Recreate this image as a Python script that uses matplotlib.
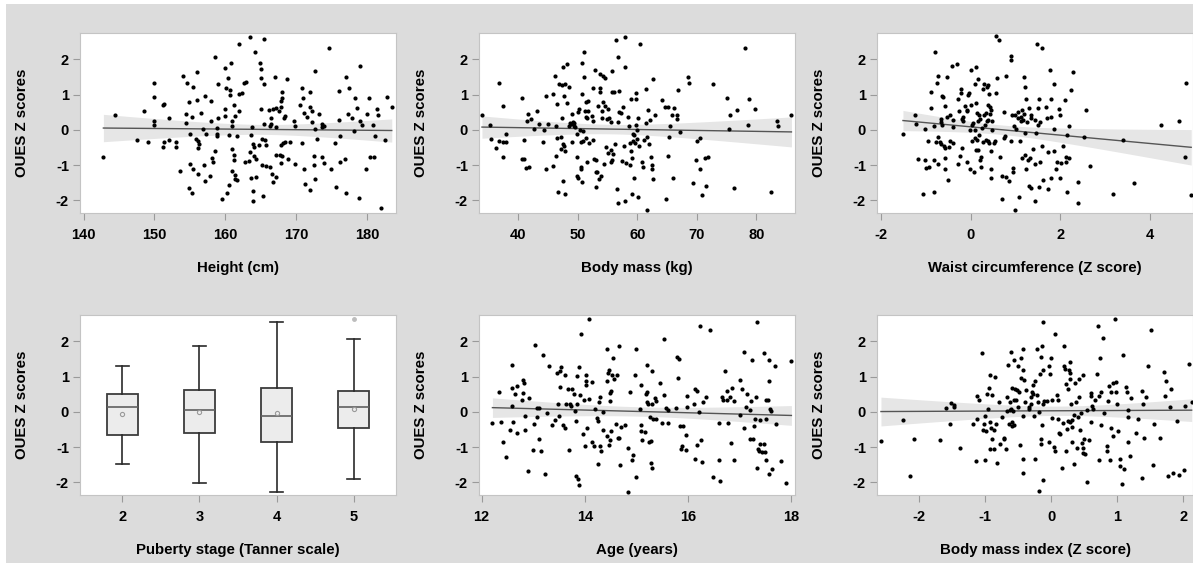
import numpy as np
import matplotlib
matplotlib.use("Agg")
import matplotlib.pyplot as plt
from matplotlib.patches import Rectangle

plt.rcParams['font.family'] = ['Liberation Sans', 'DejaVu Sans']
plt.rcParams['font.weight'] = 'bold'
plt.rcParams['axes.unicode_minus'] = False

# (x, OUES Z score) pairs
height_pts = np.array([
    (142.8, -0.76), (144.4, 0.43), (147.6, -0.29), (148.6, 0.54), (149.1, -0.34), (150.0, 1.33),
    (150.0, 0.93), (150.0, 0.26), (150.0, 0.14), (151.2, 0.70), (151.3, 0.74), (151.3, -0.34),
    (151.2, -0.49), (152.1, -0.29), (152.1, 0.34), (153.1, -0.34), (153.1, -0.49), (153.6, -1.17),
    (154.0, 1.53), (154.4, 0.19), (154.5, 0.46), (154.6, 1.34), (154.9, 0.78), (155.0, -0.11),
    (155.0, -0.97), (154.9, -1.65), (155.3, -1.78), (155.4, 1.22), (155.3, 0.37), (155.4, -1.11),
    (155.9, -0.25), (156.0, 1.63), (156.0, 0.84), (156.1, -0.31), (156.1, -0.52), (156.3, -0.41),
    (156.1, -1.25), (156.6, 0.49), (156.9, 0.02), (157.1, 0.96), (157.0, -1.01), (157.1, -1.46),
    (157.3, -0.13), (157.8, -1.32), (158.0, 0.82), (158.0, 0.26), (158.2, -0.79), (158.3, -0.91),
    (158.5, 2.08), (158.6, -0.60), (158.8, -0.11), (158.9, -0.17), (158.9, 0.06), (159.0, 1.29),
    (159.0, 0.35), (159.5, -1.97), (160.0, 1.75), (160.0, 0.58), (160.0, 0.38), (160.1, 1.19),
    (160.3, -1.80), (160.4, 1.47), (160.5, -0.15), (160.5, -1.57), (160.7, 1.14), (160.7, 1.00),
    (160.8, 1.89), (160.9, 0.26), (161.0, 0.11), (161.0, -0.55), (161.0, -1.16), (161.2, 0.70),
    (161.3, -0.72), (161.3, -0.86), (161.4, -1.28), (161.4, -1.40), (161.4, 0.38), (161.6, -1.42),
    (161.7, -0.17), (161.9, 0.53), (162.0, 1.01), (162.0, 2.45), (162.3, 1.04), (162.6, 1.32),
    (162.8, -0.91), (162.9, 1.37), (163.5, 2.64), (163.4, -0.88), (163.5, -0.62), (163.6, -1.37),
    (163.7, -0.14), (163.8, 0.07), (163.9, -1.73), (163.9, -2.03), (163.9, -0.40), (164.0, -0.74),
    (164.1, -0.48), (164.2, 2.21), (164.3, -1.33), (164.4, -0.83), (164.7, -0.43), (164.9, 1.90),
    (165.0, 0.59), (165.0, 1.48), (165.1, 1.72), (165.2, -0.26), (165.2, -1.00), (165.3, -1.87),
    (165.4, 2.57), (165.5, 1.30), (165.5, 0.16), (165.6, -0.30), (165.7, -1.02), (165.8, -0.44),
    (166.2, 0.55), (166.3, 0.10), (166.3, -1.06), (166.4, 0.35), (166.5, 0.16), (166.6, -1.25),
    (166.7, 0.59), (166.8, -1.47), (167.0, 1.49), (167.1, 0.61), (167.1, 0.09), (167.2, -0.72),
    (167.2, -1.34), (167.6, 0.54), (167.7, -0.72), (167.8, 0.66), (167.8, -0.42), (167.9, -0.93),
    (167.9, 0.82), (168.0, 1.08), (168.0, 0.90), (168.0, -0.74), (168.2, -0.36), (168.3, 0.34),
    (168.4, 0.40), (168.5, -0.34), (168.7, 1.44), (168.8, -0.83), (169.2, -0.34), (169.7, 0.26),
    (169.8, 0.11), (169.9, -0.96), (170.6, 0.70), (170.9, -0.38), (170.9, 1.19), (171.0, 0.90),
    (171.1, 0.48), (171.1, -1.10), (171.2, -1.54), (171.5, 0.37), (171.9, 1.08), (172.0, -1.72),
    (172.0, 0.66), (172.2, 0.54), (172.3, 0.23), (172.5, -0.74), (172.5, -0.99), (172.6, 0.02),
    (172.7, 1.68), (172.7, -1.40), (172.9, -0.26), (173.2, 0.44), (173.6, -0.77), (173.6, 0.16),
    (173.7, 0.07), (173.9, -0.95), (174.0, 0.11), (174.7, 2.32), (174.9, -1.10), (175.5, -0.38),
    (175.7, -1.62), (176.0, 1.11), (176.1, 0.29), (176.2, -0.17), (176.2, -0.91), (176.9, -0.84),
    (177.1, 1.51), (177.1, -1.79), (177.3, 0.44), (177.5, 1.19), (177.9, 0.34), (178.2, -0.04),
    (178.3, 0.90), (178.6, 0.61), (178.9, -1.92), (179.0, 1.80), (179.0, 0.25), (179.3, 0.13),
    (179.9, -1.10), (180.0, 0.44), (180.3, 0.91), (180.4, -0.76), (180.9, 0.14), (181.0, -0.76),
    (181.1, -0.17), (181.4, 0.59), (181.6, 0.43), (182.0, -2.23), (182.5, -0.29), (182.8, 0.94),
    (183.5, 0.65),
])

mass_pts = np.array([
    (33.9, 0.41), (35.2, 0.13), (35.5, -0.25), (36.3, -0.52), (36.7, 1.32), (36.8, -0.31),
    (37.4, -0.35), (37.5, 0.68), (37.9, -0.12), (38.0, -0.35), (37.5, -0.78), (40.6, -0.84),
    (40.6, 0.91), (40.9, -0.82), (41.0, -0.30), (41.3, -1.08), (41.5, 0.24), (41.6, 0.45),
    (41.8, -1.04), (42.1, 0.30), (42.7, 0.03), (43.1, 0.53), (43.4, 0.17), (44.2, -0.35),
    (44.3, 0.00), (44.6, 0.97), (44.7, -1.10), (45.0, 0.17), (45.8, 1.03), (45.8, -1.02),
    (46.2, 1.52), (46.3, 0.12), (46.4, -0.75), (46.5, 0.73), (46.5, -0.22), (46.6, -1.76),
    (46.9, 1.30), (47.2, -0.20), (47.3, 1.27), (47.2, -0.54), (47.4, 0.33), (47.5, 1.79),
    (47.5, -0.39), (47.5, -1.46), (47.6, 0.96), (47.7, -0.47), (47.8, 1.29), (47.8, -0.59),
    (47.9, -1.83), (48.2, 0.75), (48.2, 1.88), (48.5, 1.22), (48.6, 0.10), (48.7, 0.20),
    (48.8, 0.18), (49.0, -0.35), (49.1, 0.45), (49.2, 0.23), (49.3, 0.19), (49.3, 0.10),
    (49.6, 0.08), (49.8, -0.12), (49.9, -1.30), (49.9, -0.77), (50.0, -1.36), (50.1, 0.50),
    (50.2, 0.60), (50.4, -0.01), (50.5, -1.05), (50.5, -0.35), (50.6, -1.10), (50.7, 1.89),
    (50.7, 1.02), (50.7, -1.48), (50.8, -0.04), (50.9, -0.31), (51.0, 2.21), (51.1, 1.49),
    (51.2, 0.53), (51.3, 0.37), (51.3, -0.24), (51.4, 0.80), (51.5, -0.92), (51.6, 0.35),
    (51.7, 0.83), (51.8, 0.54), (51.9, -0.38), (52.4, 0.39), (52.5, 0.24), (52.5, -0.30),
    (52.6, 1.18), (52.8, -0.83), (52.9, 1.70), (53.0, -0.85), (53.0, -1.21), (53.1, -1.61),
    (53.3, -1.20), (53.4, 0.69), (53.6, -1.39), (53.7, 1.18), (53.7, 1.60), (53.8, 1.07),
    (53.9, -1.30), (54.0, 0.33), (54.0, 0.54), (54.2, 1.53), (54.3, 0.79), (54.4, -0.97),
    (54.5, 1.46), (54.6, 0.69), (54.8, -0.50), (54.9, 0.31), (55.0, -0.67), (55.1, 0.60),
    (55.3, 0.35), (55.5, -0.92), (55.5, 0.21), (55.6, -0.56), (55.7, 1.07), (55.8, 1.67),
    (55.8, -0.86), (55.9, -0.68), (56.1, 1.08), (56.3, -0.41), (56.5, 2.56), (56.6, -1.68),
    (56.7, -2.07), (56.8, 2.08), (56.8, 0.23), (56.9, 0.52), (56.9, 1.09), (57.3, 0.49),
    (57.4, -0.89), (57.6, 0.64), (57.7, -0.47), (57.9, 2.65), (58.0, -2.02), (58.0, 1.79),
    (58.1, -0.93), (58.4, 0.37), (58.6, 0.10), (58.7, -0.38), (58.8, -0.99), (58.9, 0.89),
    (58.9, -0.60), (59.1, -1.82), (59.1, -0.81), (59.2, -0.11), (59.3, -0.33), (59.4, -1.36),
    (59.5, -0.14), (59.6, -0.38), (59.7, 0.14), (59.8, 0.89), (59.8, 1.04), (59.9, -0.01),
    (60.0, -0.27), (60.1, 0.35), (60.2, -1.90), (60.3, -0.45), (60.4, 2.43), (60.8, -0.92),
    (60.9, -1.04), (61.2, -0.28), (61.4, 0.20), (61.5, 1.17), (61.6, -2.27), (61.6, -0.20),
    (61.8, 0.55), (61.9, -0.39), (62.1, 0.27), (62.3, -0.78), (62.4, -1.00), (62.4, -1.12),
    (62.6, 1.43), (62.7, -1.39), (63.0, 0.41), (64.1, 0.85), (64.6, 0.64), (64.8, -1.95),
    (65.1, 0.64), (65.2, -0.75), (65.4, -0.19), (65.5, 0.10), (65.9, 0.41), (66.0, -1.38),
    (66.1, 0.63), (66.6, 0.30), (66.7, 0.42), (66.8, 1.12), (67.2, -0.05), (68.6, 1.51),
    (68.7, 1.33), (69.4, -1.52), (69.9, -0.85), (70.0, -0.33), (70.5, -1.12), (70.6, -0.22),
    (70.9, -1.86), (71.3, -0.79), (71.6, -1.59), (71.8, -0.76), (72.7, 1.30), (75.0, 0.91),
    (75.4, 0.03), (75.6, 0.41), (76.3, -1.64), (76.7, 0.57), (78.1, 2.33), (78.6, 0.15),
    (78.7, 0.88), (79.8, 0.59), (82.4, -1.76), (83.5, 0.26), (83.6, 0.12), (85.9, 0.43),
])

waist_pts = np.array([
    (-1.51, -0.11), (-1.23, 0.41), (-1.22, 0.18), (-1.17, -0.82), (-1.06, -1.83), (-1.02, -0.86),
    (-1.01, 0.03), (-1.00, -1.08), (-0.95, -0.31), (-0.93, -1.04), (-0.89, 0.61), (-0.88, 1.07),
    (-0.82, -1.76), (-0.82, 0.12), (-0.81, -0.86), (-0.79, 2.20), (-0.78, -0.35), (-0.74, 1.32),
    (-0.73, -0.20), (-0.72, 1.53), (-0.72, -0.98), (-0.69, -0.35), (-0.67, 0.22), (-0.66, 0.30),
    (-0.65, -0.39), (-0.64, 0.14), (-0.63, 0.96), (-0.61, 0.92), (-0.60, -0.45), (-0.58, -1.11),
    (-0.57, 0.68), (-0.56, -0.52), (-0.56, -0.79), (-0.53, 1.50), (-0.53, 0.37), (-0.50, -1.42),
    (-0.48, -0.50), (-0.46, 0.43), (-0.46, -0.33), (-0.42, 1.80), (-0.40, -0.37), (-0.39, 0.28),
    (-0.39, 0.09), (-0.31, 1.88), (-0.28, 0.89), (-0.27, -0.96), (-0.25, 0.54), (-0.23, -0.73),
    (-0.21, 1.06), (-0.21, 1.17), (-0.20, 0.30), (-0.19, -0.52), (-0.16, 0.24), (-0.16, 0.37),
    (-0.12, 0.68), (-0.09, 0.57), (-0.08, 0.54), (-0.07, -0.90), (-0.05, 0.98), (-0.03, 1.05),
    (-0.02, 0.01), (-0.01, -1.11), (0.01, 1.69), (0.02, 0.71), (0.03, 0.14), (0.04, -0.33),
    (0.06, 0.19), (0.07, -1.21), (0.09, 1.29), (0.10, -0.01), (0.11, -0.22), (0.12, 0.77),
    (0.13, 1.78), (0.13, -0.57), (0.15, 0.47), (0.15, -0.29), (0.16, 1.44), (0.17, 0.24),
    (0.17, -0.56), (0.19, 0.41), (0.19, -0.14), (0.22, -0.85), (0.22, 0.30), (0.24, -1.06),
    (0.24, -0.77), (0.25, 0.05), (0.27, 1.15), (0.28, -0.35), (0.30, 1.30), (0.30, 0.43),
    (0.32, 0.14), (0.34, 0.49), (0.34, -0.28), (0.36, 0.24), (0.37, 1.23), (0.38, 0.28),
    (0.39, 0.71), (0.40, 1.27), (0.40, -0.33), (0.42, 1.02), (0.42, -0.38), (0.43, 0.66),
    (0.44, 0.45), (0.45, -1.10), (0.45, -1.36), (0.46, 0.57), (0.46, -0.60), (0.48, -0.01),
    (0.49, 0.24), (0.52, -0.38), (0.54, -0.33), (0.56, 2.66), (0.57, 1.05), (0.60, 1.48),
    (0.64, 2.56), (0.66, -0.77), (0.71, -1.95), (0.71, -1.32), (0.74, -0.24), (0.75, 0.52),
    (0.77, -0.18), (0.79, 1.53), (0.79, -1.34), (0.85, -1.46), (0.90, 1.97), (0.91, 2.09),
    (0.91, -0.33), (0.93, 0.43), (0.94, -1.21), (0.95, -1.08), (0.98, 0.10), (0.99, 0.43),
    (1.00, -2.27), (1.02, 0.03), (1.05, 0.52), (1.07, 0.35), (1.09, -1.90), (1.10, -0.33),
    (1.12, 0.37), (1.13, 0.24), (1.15, 0.55), (1.15, -0.79), (1.17, 0.28), (1.19, 1.51),
    (1.19, 0.45), (1.21, -0.10), (1.21, -0.71), (1.22, 1.21), (1.24, -1.11), (1.24, 0.87),
    (1.27, 0.22), (1.28, -0.85), (1.30, 0.62), (1.31, -1.59), (1.33, -0.81), (1.34, 0.41),
    (1.35, -1.64), (1.36, 0.35), (1.40, -0.54), (1.43, -2.01), (1.44, -0.98), (1.45, 0.29),
    (1.47, -0.10), (1.49, 2.43), (1.50, 0.62), (1.51, 0.14), (1.52, -1.61), (1.53, 0.89),
    (1.55, 0.22), (1.56, -0.92), (1.59, 2.33), (1.59, -0.45), (1.62, -1.42), (1.69, 0.66),
    (1.71, 0.35), (1.73, -1.67), (1.74, -0.64), (1.77, 1.70), (1.79, -1.36), (1.79, 0.89),
    (1.80, 0.37), (1.86, 1.30), (1.87, -0.60), (1.87, 0.03), (1.90, -1.12), (1.93, -0.92),
    (1.98, 0.60), (1.99, 0.43), (2.00, -1.38), (2.01, -0.94), (2.07, -0.47), (2.10, 0.85),
    (2.13, -0.77), (2.14, -0.90), (2.15, -0.14), (2.16, -1.76), (2.19, 0.12), (2.21, -0.81),
    (2.25, 1.14), (2.28, 1.63), (2.40, -1.48), (2.40, -2.07), (2.54, -0.19), (2.58, 0.57),
    (2.66, -1.02), (3.19, -1.82), (3.40, -0.28), (3.66, -1.51), (4.25, 0.14), (4.65, 0.24),
    (4.80, -0.76), (4.81, 1.34), (4.93, -1.84),
])

age_pts = np.array([
    (12.21, -0.31), (12.33, 0.55), (12.37, -0.30), (12.42, -0.86), (12.48, -1.27), (12.55, -0.51),
    (12.58, 0.17), (12.58, 0.68), (12.59, 1.32), (12.61, -0.28), (12.65, 0.52), (12.68, 0.73),
    (12.69, -0.60), (12.78, 0.33), (12.80, 0.54), (12.81, 0.90), (12.83, 0.81), (12.84, -0.52),
    (12.84, -0.13), (12.89, -1.67), (12.92, 0.40), (12.99, -1.09), (13.02, -0.35), (13.04, 1.89),
    (13.07, -0.14), (13.08, 0.12), (13.11, -0.78), (13.12, 0.12), (13.15, -1.12), (13.19, 1.62),
    (13.23, -1.76), (13.26, -0.04), (13.31, 1.30), (13.36, -0.37), (13.42, -0.22), (13.46, 1.09),
    (13.48, 0.22), (13.49, -0.13), (13.51, 1.17), (13.52, 0.70), (13.53, 1.28), (13.57, -0.36),
    (13.61, 1.06), (13.62, -0.46), (13.64, 0.23), (13.68, 0.64), (13.70, -1.08), (13.71, 0.22),
    (13.74, 0.18), (13.75, 0.64), (13.79, 0.52), (13.81, 0.03), (13.82, -0.26), (13.83, -1.82),
    (13.84, 1.02), (13.85, 0.21), (13.87, -1.90), (13.89, 1.27), (13.89, -2.08), (13.91, 0.47),
    (13.92, 2.20), (13.97, -0.62), (13.98, 0.35), (14.00, -0.98), (14.02, 0.87), (14.03, 1.06),
    (14.03, 0.77), (14.04, -0.47), (14.08, 2.64), (14.09, 0.37), (14.13, 0.85), (14.14, -0.86),
    (14.17, -0.96), (14.20, 0.09), (14.23, -0.16), (14.25, -0.27), (14.25, -1.48), (14.27, 0.28),
    (14.29, 0.41), (14.30, -0.96), (14.31, -1.11), (14.35, -0.51), (14.36, -0.01), (14.42, -0.69),
    (14.43, 1.78), (14.43, 0.88), (14.45, 1.10), (14.47, -0.94), (14.47, 1.20), (14.48, 0.31),
    (14.49, -0.81), (14.49, 0.54), (14.50, 0.58), (14.51, -0.55), (14.53, 1.04), (14.55, 1.53),
    (14.57, 0.94), (14.60, -0.35), (14.62, 1.04), (14.64, -0.75), (14.66, 1.88), (14.67, -0.75),
    (14.68, -1.52), (14.70, -0.42), (14.78, -0.37), (14.83, -2.27), (14.84, -1.03), (14.87, 0.56),
    (14.92, -1.36), (14.94, -1.22), (14.98, 1.04), (15.00, 1.79), (15.00, -1.84), (15.06, 0.09),
    (15.08, -0.55), (15.09, -0.36), (15.09, 0.77), (15.11, -0.81), (15.17, -0.56), (15.19, 0.52),
    (15.20, 1.34), (15.20, 0.27), (15.21, 0.56), (15.23, 0.22), (15.25, -0.85), (15.26, -0.15),
    (15.28, -1.45), (15.29, -0.83), (15.30, -1.60), (15.31, 1.17), (15.31, 0.22), (15.32, -0.20),
    (15.35, 0.39), (15.37, -0.20), (15.38, 0.30), (15.45, 0.83), (15.50, -0.32), (15.53, 2.08),
    (15.54, 0.47), (15.57, 0.10), (15.61, -0.33), (15.62, 0.06), (15.77, 0.10), (15.78, 1.55),
    (15.80, 0.97), (15.83, 1.51), (15.84, -0.39), (15.86, -1.04), (15.88, -0.96), (15.91, -0.39),
    (15.95, -1.08), (15.96, -0.67), (15.97, 0.15), (15.98, 0.45), (16.11, 0.21), (16.13, 0.64),
    (16.13, -1.34), (16.17, 0.58), (16.17, -0.93), (16.22, -0.01), (16.23, 2.43), (16.24, -0.79),
    (16.26, -1.41), (16.28, 0.28), (16.35, 0.43), (16.43, 2.33), (16.48, -1.84), (16.59, -0.31),
    (16.59, -1.37), (16.61, -1.95), (16.66, 0.43), (16.68, 0.35), (16.72, 1.17), (16.75, 0.33),
    (16.75, 0.58), (16.77, -0.33), (16.82, 0.43), (16.84, -0.87), (16.85, 0.68), (16.88, 0.30),
    (16.89, -1.36), (17.00, 0.91), (17.01, -0.10), (17.04, 0.64), (17.09, 1.69), (17.09, -0.46),
    (17.12, 0.15), (17.15, 0.50), (17.19, 0.04), (17.20, -0.77), (17.22, 0.32), (17.24, 1.47),
    (17.26, -0.77), (17.27, -0.39), (17.30, -0.20), (17.31, 0.41), (17.33, 2.56), (17.33, -1.59),
    (17.35, -1.04), (17.38, -1.11), (17.40, -0.92), (17.40, -0.22), (17.43, -1.15), (17.46, 1.67),
    (17.46, -0.90), (17.48, -1.15), (17.50, -1.36), (17.50, 0.35), (17.51, -0.20), (17.54, 0.35),
    (17.56, 0.89), (17.56, -1.77), (17.57, 1.48), (17.59, 0.09), (17.61, 0.03), (17.63, -1.63),
    (17.69, 1.30), (17.71, -0.35), (17.79, -1.40), (17.90, -2.01), (18.00, 1.43),
])

bmi_pts = np.array([
    (-2.58, -0.83), (-2.25, -0.24), (-2.14, -1.81), (-2.08, -0.77), (-1.68, -0.81), (-1.60, 0.10),
    (-1.53, -0.34), (-1.52, 0.26), (-1.48, 0.19), (-1.47, 0.14), (-1.38, -1.02), (-1.19, -0.34),
    (-1.14, -1.40), (-1.13, 0.45), (-1.13, -0.21), (-1.09, 0.34), (-1.05, 1.68), (-1.04, -0.51),
    (-1.02, -0.34), (-1.01, -0.11), (-1.00, -1.36), (-0.99, -0.55), (-0.98, 0.51), (-0.95, 0.09),
    (-0.94, 0.68), (-0.93, -1.06), (-0.93, 1.04), (-0.92, -0.28), (-0.91, -0.45), (-0.90, -0.76),
    (-0.89, 0.47), (-0.87, -1.06), (-0.86, -0.51), (-0.85, 0.99), (-0.83, -0.34), (-0.82, -1.44),
    (-0.79, 0.28), (-0.77, -0.91), (-0.74, -0.15), (-0.72, -0.78), (-0.71, -0.74), (-0.69, -1.06),
    (-0.67, 0.42), (-0.67, 0.02), (-0.65, 1.33), (-0.64, -0.34), (-0.63, 0.04), (-0.62, 0.28),
    (-0.61, 0.09), (-0.61, 1.70), (-0.60, 0.68), (-0.60, -0.30), (-0.59, -0.40), (-0.58, 0.02),
    (-0.57, 0.34), (-0.57, -0.36), (-0.56, 1.46), (-0.55, 0.66), (-0.53, 0.34), (-0.52, 0.63),
    (-0.51, 0.15), (-0.50, 1.31), (-0.48, 0.55), (-0.47, -0.95), (-0.45, 1.52), (-0.45, 0.97),
    (-0.43, -1.33), (-0.43, -1.74), (-0.43, 1.78), (-0.42, -0.11), (-0.42, 1.18), (-0.41, 0.91),
    (-0.40, 0.27), (-0.38, 0.61), (-0.34, 0.09), (-0.33, 0.14), (-0.31, 0.42), (-0.30, 0.23),
    (-0.29, 0.57), (-0.28, 0.51), (-0.27, 0.76), (-0.26, -0.13), (-0.25, -1.35), (-0.24, 0.87),
    (-0.22, 0.49), (-0.21, 1.78), (-0.20, 0.27), (-0.19, -2.25), (-0.18, 0.00), (-0.17, 1.08),
    (-0.16, -0.91), (-0.15, -0.78), (-0.15, 1.55), (-0.14, 1.87), (-0.14, -0.36), (-0.13, 2.56),
    (-0.13, 0.23), (-0.12, -1.93), (-0.12, 1.18), (-0.11, 0.30), (-0.07, 0.32), (-0.04, 1.29),
    (-0.03, -0.85), (-0.02, 1.08), (-0.01, 1.52), (0.01, 0.34), (0.02, -0.17), (0.04, -1.00),
    (0.06, 2.20), (0.06, -1.10), (0.09, 0.47), (0.10, 0.34), (0.11, -0.19), (0.12, -0.59),
    (0.14, -0.63), (0.16, -1.59), (0.18, -0.32), (0.19, 1.88), (0.20, 1.29), (0.21, 1.23),
    (0.22, 0.78), (0.23, -1.10), (0.24, -0.49), (0.25, -0.25), (0.26, 0.66), (0.27, 1.18),
    (0.28, 1.09), (0.28, -0.28), (0.28, 0.93), (0.29, 1.42), (0.30, 0.23), (0.31, -0.23),
    (0.31, -0.85), (0.32, -0.44), (0.34, -0.09), (0.35, -1.48), (0.36, 0.83), (0.38, 0.27),
    (0.39, -1.02), (0.40, -0.15), (0.42, 0.42), (0.42, 0.93), (0.44, -0.51), (0.45, -0.02),
    (0.47, -0.89), (0.48, 1.04), (0.48, -1.02), (0.49, -1.16), (0.50, -0.76), (0.52, -1.19),
    (0.54, -1.99), (0.55, 0.04), (0.58, -0.80), (0.60, 0.53), (0.61, 0.44), (0.61, -0.30),
    (0.62, 0.17), (0.63, 0.09), (0.67, 0.34), (0.70, 1.08), (0.71, 2.43), (0.72, -1.38),
    (0.73, 0.44), (0.74, 1.52), (0.75, -0.38), (0.75, 0.55), (0.78, 2.09), (0.80, -0.04),
    (0.84, -1.10), (0.85, -0.97), (0.86, 0.32), (0.87, 0.74), (0.89, -1.36), (0.90, 0.55),
    (0.91, -0.45), (0.93, -0.68), (0.94, 0.82), (0.97, 2.64), (0.98, 0.55), (0.99, 0.85),
    (1.00, 0.21), (1.02, -0.53), (1.04, -1.35), (1.04, -1.55), (1.07, -2.05), (1.09, 1.61),
    (1.11, -1.61), (1.13, 0.70), (1.15, 0.57), (1.16, 0.04), (1.16, -0.15), (1.16, -0.85),
    (1.19, -1.25), (1.21, 0.38), (1.29, -0.59), (1.31, -0.19), (1.37, -1.88), (1.38, 0.59),
    (1.39, 0.23), (1.41, -0.74), (1.43, 0.42), (1.47, 1.31), (1.52, 2.33), (1.54, -1.50),
    (1.56, -0.34), (1.65, -0.74), (1.71, 1.14), (1.72, 0.44), (1.74, 0.89), (1.77, -1.82),
    (1.80, 0.13), (1.81, 0.64), (1.84, -1.74), (1.90, -0.25), (1.94, -1.80), (2.02, -1.66),
    (2.03, 0.16), (2.09, 1.35), (2.13, 0.27),
])

# boxplot summary per Tanner stage (whisker low, Q1, median, Q3, whisker high, mean)
tanner_stages = [2, 3, 4, 5]
box_low = [-1.47, -2.01, -2.27, -1.90]
box_q1 = [-0.67, -0.60, -0.85, -0.47]
box_med = [0.15, 0.05, -0.13, 0.13]
box_q3 = [0.52, 0.63, 0.69, 0.60]
box_high = [1.31, 1.87, 2.55, 2.07]
box_mean = [-0.07, 0.01, -0.03, 0.08]
box_fliers = [[], [], [], [2.63]]

fig = plt.figure(figsize=(11.93, 5.63), dpi=100)
fig.patches.append(Rectangle((6 / 1193, 0), 1, 559 / 563, transform=fig.transFigure,
                             facecolor='#dcdcdc', edgecolor='none', zorder=-10))

W, H = 316 / 1193, 180 / 563
lefts = [80 / 1193, 479 / 1193, 877 / 1193]
bottoms = [350 / 563, 68 / 563]
YLIM = (-2.36, 2.75)


def style(ax, xlabel):
    for sp in ax.spines.values():
        sp.set_color('#c4c4c4')
        sp.set_linewidth(0.8)
    ax.tick_params(direction='out', length=5, width=0.8, color='#9a9a9a',
                   labelsize=10.5, pad=3)
    ax.tick_params(axis='x', pad=6)
    ax.set_ylim(*YLIM)
    ax.set_yticks([-2, -1, 0, 1, 2])
    ax.set_ylabel('OUES Z scores', fontsize=10.8, fontweight='bold')
    ax.set_xlabel(xlabel, fontsize=10.8, fontweight='bold')
    ax.yaxis.set_label_coords(-0.16, 0.5)
    ax.xaxis.set_label_coords(0.5, -0.265)


def scatter_fit(ax, pts, xlim, xticks, xlabel):
    x, y = pts[:, 0], pts[:, 1]
    n = len(x)
    b1, b0 = np.polyfit(x, y, 1)
    xs = np.linspace(x.min(), x.max(), 100)
    yhat = b0 + b1 * xs
    s = np.sqrt(np.sum((y - (b0 + b1 * x)) ** 2) / (n - 2))
    se = s * np.sqrt(1 / n + (xs - x.mean()) ** 2 / np.sum((x - x.mean()) ** 2))
    ax.fill_between(xs, yhat - 1.97 * se, yhat + 1.97 * se, color='#e6e6e6', lw=0, zorder=1)
    ax.plot(xs, yhat, color='#555555', lw=1.0, zorder=2)
    ax.scatter(x, y, s=9, color='black', lw=0, zorder=3)
    ax.set_xlim(*xlim)
    ax.set_xticks(xticks)
    style(ax, xlabel)


ax1 = fig.add_axes([lefts[0], bottoms[0], W, H])
scatter_fit(ax1, height_pts, (139.5, 184.1), [140, 150, 160, 170, 180], 'Height (cm)')

ax2 = fig.add_axes([lefts[1], bottoms[0], W, H])
scatter_fit(ax2, mass_pts, (33.4, 86.5), [40, 50, 60, 70, 80], 'Body mass (kg)')

ax3 = fig.add_axes([lefts[2], bottoms[0], W, H])
scatter_fit(ax3, waist_pts, (-2.09, 4.97), [-2, 0, 2, 4], 'Waist circumference (Z score)')

ax4 = fig.add_axes([lefts[0], bottoms[1], W, H])
stats = []
for i in range(len(tanner_stages)):
    stats.append(dict(whislo=box_low[i], q1=box_q1[i], med=box_med[i], q3=box_q3[i],
                      whishi=box_high[i], mean=box_mean[i], fliers=box_fliers[i]))
ax4.bxp(stats, positions=tanner_stages, widths=0.41, showmeans=True, patch_artist=True,
        capwidths=0.16,
        boxprops=dict(facecolor='#ececec', edgecolor='#3c3c3c', lw=1.3),
        medianprops=dict(color='#606060', lw=1.2),
        whiskerprops=dict(color='#2a2a2a', lw=1.2),
        capprops=dict(color='#2a2a2a', lw=1.2),
        meanprops=dict(marker='o', markersize=3, markerfacecolor='none',
                       markeredgecolor='#9a9a9a', markeredgewidth=0.8),
        flierprops=dict(marker='o', markersize=2.5, markerfacecolor='#bdbdbd',
                        markeredgecolor='#bdbdbd'))
ax4.set_xlim(1.45, 5.55)
ax4.set_xticks(tanner_stages)
ax4.set_xticklabels([str(t) for t in tanner_stages])
style(ax4, 'Puberty stage (Tanner scale)')

ax5 = fig.add_axes([lefts[1], bottoms[1], W, H])
scatter_fit(ax5, age_pts, (11.95, 18.07), [12, 14, 16, 18], 'Age (years)')

ax6 = fig.add_axes([lefts[2], bottoms[1], W, H])
scatter_fit(ax6, bmi_pts, (-2.64, 2.15), [-2, -1, 0, 1, 2], 'Body mass index (Z score)')

fig.savefig('out.png', dpi=100)
